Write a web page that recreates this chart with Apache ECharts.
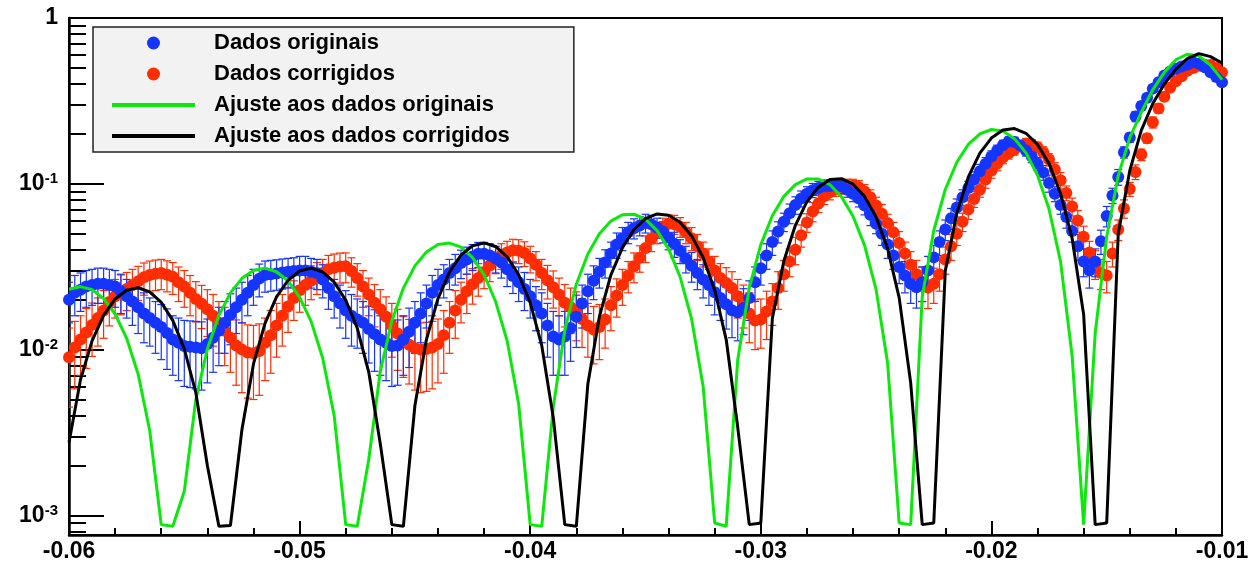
<!DOCTYPE html>
<html>
<head>
<meta charset="utf-8">
<script src="https://cdn.jsdelivr.net/npm/echarts@6.0.0/dist/echarts.min.js"></script>
<style>
  html, body { margin: 0; padding: 0; background: #fff; }
  #chart { width: 1257px; height: 563px; }
</style>
</head>
<body>
<div id="chart"></div>
<script>
// sampling grids of the measured points and of the two fitted curves
const dataX0 = -0.06, dataStep = 0.00025;
const fitX0 = -0.06, fitStep = 0.0005;

// Dados originais (blue)
const blueVals = [
  0.0200,0.0220,0.0230,0.0240,0.0245,0.0250,0.0250,0.0245,0.0240,0.0225,
  0.0210,0.0195,0.0180,0.0165,0.0155,0.0145,0.0137,0.0126,0.0115,0.0110,
  0.0105,0.0104,0.0103,0.0102,0.0108,0.0118,0.0130,0.0145,0.0162,0.0180,
  0.0200,0.0220,0.0245,0.0268,0.0282,0.0285,0.0288,0.0292,0.0295,0.0298,
  0.0300,0.0300,0.0295,0.0290,0.0265,0.0235,0.0210,0.0190,0.0172,0.0160,
  0.0152,0.0145,0.0133,0.0124,0.0115,0.0110,0.0105,0.0106,0.0115,0.0128,
  0.0145,0.0165,0.0190,0.0220,0.0245,0.0265,0.0290,0.0310,0.0333,0.0350,
  0.0365,0.0378,0.0378,0.0370,0.0355,0.0335,0.0305,0.0278,0.0255,0.0232,
  0.0210,0.0185,0.0165,0.0140,0.0120,0.0115,0.0120,0.0135,0.0158,0.0190,
  0.0225,0.0260,0.0295,0.0335,0.0380,0.0430,0.0470,0.0510,0.0540,0.0560,
  0.0580,0.0570,0.0545,0.0515,0.0475,0.0435,0.0395,0.0355,0.0320,0.0290,
  0.0265,0.0245,0.0222,0.0205,0.0188,0.0173,0.0168,0.0178,0.0205,0.0255,
  0.0310,0.0370,0.0445,0.0515,0.0590,0.0665,0.0745,0.0815,0.0870,0.0915,
  0.0945,0.0965,0.0970,0.0970,0.0965,0.0920,0.0870,0.0815,0.0740,0.0650,
  0.0575,0.0500,0.0430,0.0370,0.0315,0.0280,0.0250,0.0238,0.0255,0.0300,
  0.0360,0.0445,0.0530,0.0620,0.0720,0.0830,0.0945,0.1060,0.1190,0.1320,
  0.1460,0.1590,0.1710,0.1800,0.1790,0.1700,0.1590,0.1460,0.1320,0.1170,
  0.1010,0.0870,0.0745,0.0630,0.0520,0.0420,0.0340,0.0300,0.0340,0.0450,
  0.0640,0.0850,0.1100,0.1550,0.1900,0.2550,0.2950,0.3300,0.3750,0.4100,
  0.4500,0.4750,0.4950,0.5100,0.5250,0.5400,0.5300,0.5050,0.4700,0.4400,
  0.4100
];
const blueErr = [
  .0055,.006,.006,.006,.006,.006,.006,.006,.006,.006,
  .0055,.0055,.0055,.0055,.005,.005,.005,.005,.0045,.0045,
  .0045,.0045,.0045,.0045,.0045,.0045,.005,.005,.0055,.0055,
  .0055,.006,.006,.006,.006,.006,.006,.006,.006,.006,
  .0065,.0065,.006,.006,.006,.006,.0055,.0055,.0055,.0055,
  .005,.005,.005,.005,.0045,.0045,.0045,.0045,.0045,.005,
  .005,.0055,.0055,.006,.006,.006,.006,.0065,.0065,.0065,
  .0065,.0065,.0065,.0065,.0065,.0065,.0065,.006,.006,.006,
  .0055,.0055,.0055,.005,.005,.0045,.005,.005,.0055,.0055,
  .006,.006,.006,.0065,.0065,.0075,.0075,.0075,.0075,.0075,
  .0075,.0075,.0075,.0075,.0075,.0075,.0065,.0065,.0065,.006,
  .006,.006,.006,.0055,.0055,.0055,.0055,.0055,.0055,.006,
  .0065,.0065,.0075,.0075,.0075,.009,.009,.009,.009,.009,
  .009,.009,.009,.009,.009,.009,.009,.009,.009,.009,
  .0075,.0075,.0075,.0065,.0065,.006,.006,.006,.006,.0065,
  .0065,.0075,.0075,.009,.009,.009,.009,.012,.012,.012,
  .012,.012,.012,.012,.012,.012,.012,.012,.012,.012,
  .012,.009,.009,.009,.0075,.0075,.0065,.0065,.0065,.0075,
  .009,.009,.012,.012,.012,.018,.018,.018,.018,.018,
  .018,.018,.018,.018,.018,.018,.018,.018,.018,.018,
  .018
];

// Dados corrigidos (red)
const redVals = [
  0.0090,0.0103,0.0115,0.0127,0.0141,0.0155,0.0172,0.0194,0.0210,0.0222,
  0.0232,0.0245,0.0258,0.0273,0.0282,0.0287,0.0290,0.0283,0.0275,0.0255,
  0.0240,0.0220,0.0202,0.0189,0.0175,0.0160,0.0145,0.0130,0.0118,0.0106,
  0.0100,0.0096,0.0095,0.0098,0.0110,0.0122,0.0140,0.0160,0.0182,0.0205,
  0.0228,0.0245,0.0260,0.0275,0.0290,0.0305,0.0312,0.0317,0.0318,0.0298,
  0.0270,0.0240,0.0215,0.0192,0.0175,0.0158,0.0140,0.0125,0.0113,0.0107,
  0.0102,0.0100,0.0101,0.0103,0.0108,0.0122,0.0145,0.0172,0.0200,0.0225,
  0.0248,0.0270,0.0293,0.0322,0.0352,0.0370,0.0385,0.0398,0.0395,0.0382,
  0.0355,0.0325,0.0290,0.0262,0.0238,0.0215,0.0192,0.0180,0.0168,0.0153,
  0.0140,0.0132,0.0137,0.0152,0.0185,0.0212,0.0245,0.0280,0.0318,0.0358,
  0.0410,0.0465,0.0510,0.0545,0.0575,0.0570,0.0550,0.0510,0.0470,0.0420,
  0.0380,0.0340,0.0300,0.0270,0.0252,0.0235,0.0210,0.0190,0.0165,0.0150,
  0.0152,0.0170,0.0195,0.0235,0.0285,0.0340,0.0400,0.0490,0.0585,0.0680,
  0.0760,0.0840,0.0890,0.0930,0.0955,0.0975,0.0975,0.0955,0.0900,0.0830,
  0.0740,0.0660,0.0580,0.0510,0.0440,0.0380,0.0325,0.0285,0.0255,0.0237,
  0.0250,0.0285,0.0350,0.0420,0.0500,0.0590,0.0700,0.0810,0.0920,0.1060,
  0.1200,0.1320,0.1440,0.1530,0.1610,0.1690,0.1750,0.1730,0.1660,0.1550,
  0.1400,0.1220,0.1050,0.0880,0.0730,0.0600,0.0480,0.0385,0.0330,0.0290,
  0.0280,0.0380,0.0530,0.0710,0.0930,0.1180,0.1500,0.1880,0.2350,0.2850,
  0.3350,0.3800,0.4150,0.4450,0.4800,0.5000,0.5150,0.5220,0.5200,0.5000,
  0.4700
];
const redErr = [
  .0045,.0045,.0045,.005,.005,.005,.0055,.0055,.0055,.006,
  .006,.006,.006,.006,.006,.006,.006,.006,.006,.006,
  .006,.006,.0055,.0055,.0055,.0055,.005,.005,.0045,.0045,
  .0045,.0045,.0045,.0045,.0045,.005,.005,.0055,.0055,.0055,
  .006,.006,.006,.006,.006,.0065,.0065,.0065,.0065,.006,
  .006,.006,.0055,.0055,.0055,.005,.005,.005,.0045,.0045,
  .0045,.0045,.0045,.0045,.0045,.005,.005,.0055,.0055,.006,
  .006,.006,.006,.0065,.0065,.0065,.0065,.0065,.0065,.0065,
  .0065,.0065,.006,.006,.006,.0055,.0055,.0055,.0055,.005,
  .005,.005,.005,.005,.0055,.0055,.006,.006,.0065,.0065,
  .0075,.0075,.0075,.0075,.0075,.0075,.0075,.0075,.0075,.0075,
  .0065,.0065,.0065,.006,.006,.006,.0055,.0055,.0055,.005,
  .005,.0055,.0055,.006,.006,.0065,.0075,.0075,.0075,.009,
  .009,.009,.009,.009,.009,.009,.009,.009,.009,.009,
  .009,.009,.0075,.0075,.0075,.0065,.0065,.006,.006,.006,
  .006,.006,.0065,.0075,.0075,.0075,.009,.009,.009,.012,
  .012,.012,.012,.012,.012,.012,.012,.012,.012,.012,
  .012,.012,.012,.009,.009,.009,.0075,.0065,.0065,.006,
  .006,.0065,.0075,.009,.009,.012,.012,.012,.018,.018,
  .018,.018,.018,.018,.018,.018,.018,.018,.018,.018,
  .018
];

// Ajuste aos dados originais (green) and aos dados corrigidos (black)
const greenFit = [
  .0231,.0240,.0230,.0203,.0164,.0117,.0071,.00325,.00088,.00086,
  .0014,.0050,.0101,.0161,.0220,.0269,.0300,.0310,.0295,.0260,
  .0207,.0148,.0089,.0040,.00088,.00086,.00218,.0074,.0149,.0235,
  .0320,.0388,.0430,.0439,.0415,.0359,.0283,.0195,.0113,.0047,
  .00088,.00086,.0045,.0131,.0248,.0377,.0500,.0596,.0651,.0656,
  .0611,.0522,.0405,.0275,.0153,.0060,.00090,.00086,.0087,.0236,
  .0430,.0642,.0840,.0989,.1070,.1069,.0987,.0834,.0637,.0425,
  .0230,.0083,.00090,.00088,.0208,.0523,.0924,.1349,.1730,.2002,
  .2125,.2080,.1872,.1536,.1125,.0704,.0339,.0092,.00088,.0125,
  .048,.112,.190,.270,.370,.470,.560,.605,.590,.520,
  .425
];
const blackFit = [
  .00275,.0066,.0113,.0161,.0202,.0228,.0236,.0223,.0193,.0150,
  .0101,.0055,.0020,.00086,.00087,.0033,.0082,.0144,.0208,.0262,
  .0298,.0310,.0294,.0255,.0199,.0135,.0073,.0027,.00088,.00086,
  .0046,.0115,.0203,.0293,.0372,.0423,.0440,.0419,.0363,.0283,
  .0192,.0106,.0039,.00088,.00086,.0062,.0158,.0282,.0412,.0530,
  .0616,.0658,.0647,.0586,.0485,.0359,.0229,.0115,.0034,.00088,
  .00090,.0154,.0342,.0562,.0780,.0955,.1060,.1074,.0995,.0840,
  .0631,.0407,.0206,.0063,.00088,.00090,.0298,.0663,.1101,.1533,
  .1888,.2108,.2154,.2017,.1725,.1324,.0875,.0469,.0163,.00088,
  .00090,.050,.120,.210,.305,.400,.490,.570,.610,.585,
  .535
];

const legendNames = ["Dados originais", "Dados corrigidos",
  "Ajuste aos dados originais", "Ajuste aos dados corrigidos"];

const xMin = -0.06, xMax = -0.01, xInterval = 0.01;
const yMin = 0.000762, yMax = 1;
const yMajorTicks = [0.001, 0.01, 0.1, 1];
const yTickLabels = ["10^-3", "10^-2", "10^-1", "1"];
const yMinorTicks = [
  0.0008, 0.0009,
  0.002, 0.003, 0.004, 0.005, 0.006, 0.007, 0.008, 0.009,
  0.02, 0.03, 0.04, 0.05, 0.06, 0.07, 0.08, 0.09,
  0.2, 0.3, 0.4, 0.5, 0.6, 0.7, 0.8, 0.9,
];

const BLUE = "#1535ff", RED = "#ff2d00", GREEN = "#0ce80c", BLACK = "#000";
const FONT = "Liberation Sans";

const points = (vals, errs) =>
  vals.map((v, i) => [+(dataX0 + i * dataStep).toFixed(6), v, errs[i]]);
const curve = (vals) =>
  vals.map((v, i) => [+(fitX0 + i * fitStep).toFixed(6), v]);

const errorBars = (name, color, rows) => ({
  type: "custom",
  name,
  data: rows,
  encode: { x: 0, y: 1 },
  clip: true,
  silent: true,
  renderItem: (params, api) => {
    const x = api.value(0), v = api.value(1), e = api.value(2);
    const hi = api.coord([x, v + e]);
    const lo = api.coord([x, v - e]);
    const s = { stroke: color, lineWidth: 1.2 };
    return {
      type: "group",
      children: [
        { type: "line", shape: { x1: hi[0], y1: hi[1], x2: lo[0], y2: lo[1] }, style: s },
        { type: "line", shape: { x1: hi[0] - 4, y1: hi[1], x2: hi[0] + 4, y2: hi[1] }, style: s },
        { type: "line", shape: { x1: lo[0] - 4, y1: lo[1], x2: lo[0] + 4, y2: lo[1] }, style: s },
      ],
    };
  },
});

const bluePts = points(blueVals, blueErr);
const redPts = points(redVals, redErr);

const chart = echarts.init(document.getElementById("chart"));

const lineIcon = "path://M0,0H100V5H0Z";

chart.setOption({
  animation: false,
  backgroundColor: "#fff",
  grid: {
    left: 69, right: 35, top: 18, bottom: 28,
    show: true, borderColor: "#000", borderWidth: 2, backgroundColor: "transparent",
  },
  legend: {
    data: [
      { name: legendNames[0], icon: "circle" },
      { name: legendNames[1], icon: "circle" },
      { name: legendNames[2], icon: lineIcon },
      { name: legendNames[3], icon: lineIcon },
    ],
    orient: "vertical",
    left: 93, top: 27,
    padding: [5, 64, 5, 19],
    itemGap: 9,
    itemWidth: 83,
    itemHeight: 13,
    itemStyle: { borderWidth: 0 },
    backgroundColor: "#f2f2f2",
    borderColor: "#222",
    borderWidth: 1.5,
    selectedMode: false,
    z: 10,
    textStyle: {
      fontFamily: FONT, fontWeight: "bold", fontSize: 22, color: "#000",
      lineHeight: 22, padding: [0, 0, 0, 14],
    },
  },
  xAxis: {
    type: "value",
    min: xMin, max: xMax, interval: xInterval,
    axisLine: { lineStyle: { color: "#000", width: 2.5 } },
    axisTick: { inside: true, length: 14, lineStyle: { color: "#000", width: 2 } },
    minorTick: { show: true, splitNumber: 5, length: 7, lineStyle: { color: "#000", width: 2 } },
    splitLine: { show: false },
    axisLabel: {
      formatter: (v) => v.toFixed(2),
      margin: 5,
      fontFamily: FONT, fontWeight: "bold", fontSize: 23, color: "#000",
    },
  },
  yAxis: [
    {
      type: "log",
      min: yMin, max: yMax,
      axisLine: { show: true, lineStyle: { color: "#000", width: 2.5 } },
      axisTick: { inside: true, length: 35, customValues: yMajorTicks, lineStyle: { color: "#000", width: 2 } },
      splitLine: { show: false },
      axisLabel: {
        customValues: yMajorTicks,
        margin: 11,
        formatter: (v) => {
          const i = yMajorTicks.findIndex((t) => Math.abs(Math.log10(t) - Math.log10(v)) < 1e-6);
          if (i < 0) return "";
          const [base, exp] = yTickLabels[i].split("^");
          return exp ? `{b|${base}}{s|${exp}}` : `{b|${base}}`;
        },
        rich: {
          b: { fontFamily: FONT, fontWeight: "bold", fontSize: 23, lineHeight: 24, color: "#000" },
          s: { fontFamily: FONT, fontWeight: "bold", fontSize: 15, lineHeight: 14, color: "#000", verticalAlign: "top" },
        },
      },
    },
    {
      type: "log",
      min: yMin, max: yMax,
      position: "left",
      axisLine: { show: false },
      axisTick: { inside: true, length: 17, customValues: yMinorTicks, lineStyle: { color: "#000", width: 2 } },
      axisLabel: { show: false },
      splitLine: { show: false },
    },
  ],
  series: [
    errorBars("err-corrigidos", RED, redPts),
    {
      type: "scatter", name: legendNames[1], data: redPts.map((p) => [p[0], p[1]]),
      symbolSize: 12, itemStyle: { color: RED, opacity: 1 }, silent: true,
    },
    errorBars("err-originais", BLUE, bluePts),
    {
      type: "scatter", name: legendNames[0], data: bluePts.map((p) => [p[0], p[1]]),
      symbolSize: 12, itemStyle: { color: BLUE, opacity: 1 }, silent: true,
    },
    {
      type: "line", name: legendNames[2], data: curve(greenFit),
      symbol: "none", showSymbol: false, clip: true,
      lineStyle: { color: GREEN, width: 3 }, itemStyle: { color: GREEN },
    },
    {
      type: "line", name: legendNames[3], data: curve(blackFit),
      symbol: "none", showSymbol: false, clip: true,
      lineStyle: { color: BLACK, width: 3 }, itemStyle: { color: BLACK },
    },
  ],
});
</script>
</body>
</html>
